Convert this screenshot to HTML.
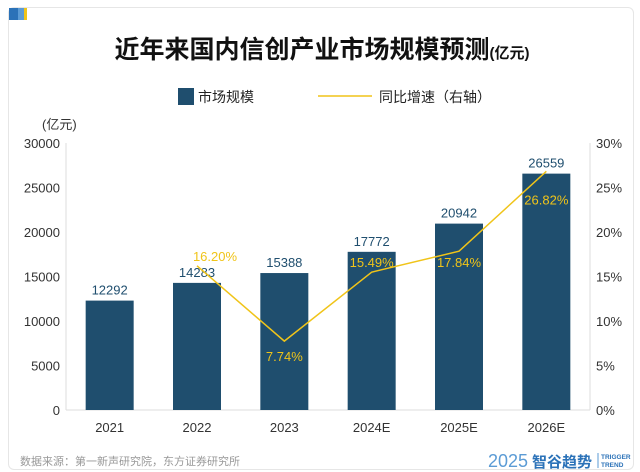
<!DOCTYPE html>
<html><head><meta charset="utf-8"><style>
body{margin:0;width:640px;height:472px;background:#fff;overflow:hidden;font-family:"Liberation Sans","Noto Sans CJK SC",sans-serif;}
.card{position:absolute;left:8px;top:7px;width:624px;height:461px;border:1px solid #e6e6e6;border-radius:6px;}
</style></head><body>
<div class="card"></div>
<div style="position:absolute;left:9px;top:8px;width:9px;height:12px;background:#2b72b8"></div>
<div style="position:absolute;left:18px;top:8px;width:6px;height:12px;background:#5b9bd5"></div>
<div style="position:absolute;left:24px;top:8px;width:3px;height:12px;background:#f0c419"></div>
<svg width="640" height="472" style="position:absolute;left:0;top:0" id="chart">
<text x="322" y="58" text-anchor="middle" font-size="25" font-weight="bold" fill="#111">近年来国内信创产业市场规模预测<tspan font-size="15">(亿元)</tspan></text>
<g>
<rect x="178" y="88" width="16" height="17" fill="#1f4e6e"/>
<text x="198" y="102" font-size="14" fill="#222">市场规模</text>
<line x1="318" y1="96" x2="372" y2="96" stroke="#f0c419" stroke-width="1.5"/>
<text x="379" y="102" font-size="14" fill="#222">同比增速（右轴）</text>
</g>
<text x="42" y="129" font-size="13" fill="#333">(亿元)</text>
<g id="axes"></g><g id="bars"></g><g id="line"></g>
<text x="20" y="465" font-size="11" fill="#999">数据来源：第一新声研究院，东方证券研究所</text>
<text x="488" y="467" font-size="18" fill="#5b9bd5" font-weight="300">2025</text>
<text x="532" y="467" font-size="15" fill="#2b72b8" font-weight="bold">智谷趋势</text>
<line x1="598" y1="453" x2="598" y2="468" stroke="#5b9bd5"/>
<text x="601" y="459" font-size="6.5" fill="#2b72b8" font-weight="bold">TRIGGER</text>
<text x="601" y="467" font-size="6.5" fill="#2b72b8" font-weight="bold">TREND</text>
</svg>
<script>
const categories=["2021","2022","2023","2024E","2025E","2026E"];
const marketSize=[12292,14283,15388,17772,20942,26559];
const growth=[null,16.20,7.74,15.49,17.84,26.82];
const leftTicks=[0,5000,10000,15000,20000,25000,30000];
const rightTicks=[0,5,10,15,20,25,30];
const NS="http://www.w3.org/2000/svg";
const X0=66,X1=590,Y0=410,Y1=143;
const band=(X1-X0)/categories.length;
const xc=i=>X0+band*(i+0.5);
const yl=v=>Y0-(v/30000)*(Y0-Y1);
const yr=v=>Y0-(v/30)*(Y0-Y1);
const lblDx=[0,18,0,0,0,0];
const lblDy=[0,-5,20,-5,16,33];
function mk(tag,attrs,parent,text){const e=document.createElementNS(NS,tag);for(const k in attrs)e.setAttribute(k,attrs[k]);if(text!==undefined)e.textContent=text;parent.appendChild(e);return e;}
const ax=document.getElementById('axes'),bg=document.getElementById('bars'),lg=document.getElementById('line');
let e=mk('line',{x1:X0,y1:Y1,x2:X0,y2:Y0,stroke:'#ddd'},ax);


e=mk('line',{x1:X1,y1:Y1,x2:X1,y2:Y0,stroke:'#ddd'},ax);


e=mk('line',{x1:X0,y1:Y0,x2:X1,y2:Y0,stroke:'#ddd'},ax);


leftTicks.forEach(t=>{const el=mk('text',{x:X0-6,y:yl(t)+5,'text-anchor':'end','font-size':13,fill:'#333'},ax,t);

});
rightTicks.forEach(t=>{const el=mk('text',{x:X1+6,y:yr(t)+5,'font-size':13,fill:'#333'},ax,t+'%');

});
categories.forEach((c,i)=>{const el=mk('text',{x:xc(i),y:Y0+22,'text-anchor':'middle','font-size':13,fill:'#333'},ax,c);


const b=mk('rect',{x:xc(i)-24,y:yl(marketSize[i]),width:48,height:Y0-yl(marketSize[i]),fill:'#1f4e6e'},bg);


const l=mk('text',{x:xc(i),y:yl(marketSize[i])-6,'text-anchor':'middle','font-size':13,fill:'#1f4e6e'},bg,marketSize[i]);

});
const pts=[];growth.forEach((g,i)=>{if(g!==null)pts.push([xc(i),yr(g),g,i]);});
const pl=mk('polyline',{points:pts.map(p=>p[0]+','+p[1]).join(' '),fill:'none',stroke:'#f0c419','stroke-width':1.5},lg);


pts.forEach(p=>{const i=p[3];const l=mk('text',{x:p[0]+lblDx[i],y:p[1]+lblDy[i],'text-anchor':'middle','font-size':13,fill:'#f0c419'},lg,p[2].toFixed(2)+'%');

});
</script>
</body></html>
